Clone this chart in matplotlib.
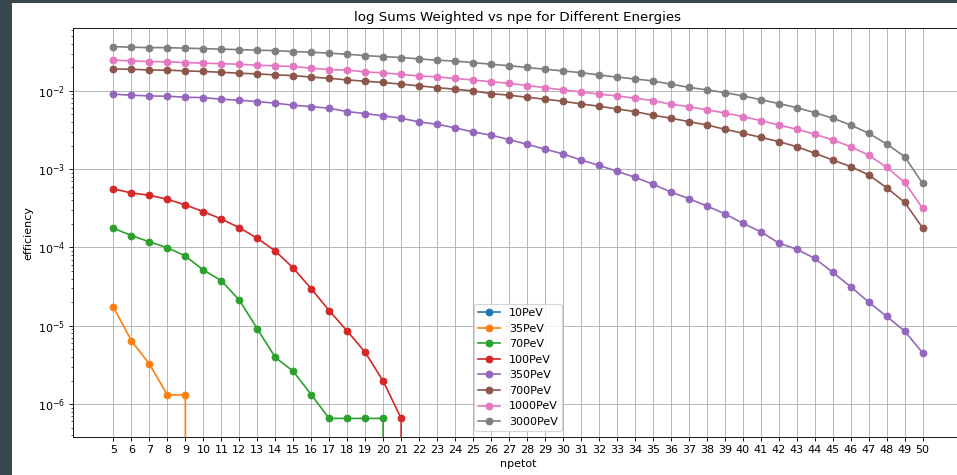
import matplotlib
matplotlib.use("Agg")
import matplotlib.pyplot as plt
from matplotlib.patches import Rectangle

npetot = list(range(5, 51))

labels = ["10PeV", "35PeV", "70PeV", "100PeV", "350PeV", "700PeV", "1000PeV", "3000PeV"]

eff_10 = [0.0] * 46

eff_35 = [1.72e-5, 6.44e-6, 3.24e-6, 1.31e-6, 1.31e-6] + [0.0] * 41

eff_70 = [1.76e-4, 1.42e-4, 1.18e-4, 9.94e-5, 7.78e-5, 5.15e-5, 3.77e-5, 2.13e-5,
          9.16e-6, 3.95e-6, 2.62e-6, 1.32e-6, 6.56e-7, 6.56e-7, 6.56e-7, 6.56e-7] + [0.0] * 30

eff_100 = [5.60e-4, 4.97e-4, 4.65e-4, 4.13e-4, 3.49e-4, 2.87e-4, 2.31e-4, 1.79e-4,
           1.31e-4, 9.02e-5, 5.47e-5, 2.97e-5, 1.56e-5, 8.57e-6, 4.58e-6, 1.97e-6,
           6.56e-7] + [0.0] * 29

eff_350 = [9.08e-3, 8.81e-3, 8.63e-3, 8.55e-3, 8.30e-3, 8.21e-3, 7.83e-3, 7.60e-3,
           7.30e-3, 6.97e-3, 6.56e-3, 6.30e-3, 6.01e-3, 5.44e-3, 5.13e-3, 4.80e-3,
           4.48e-3, 4.02e-3, 3.75e-3, 3.37e-3, 2.99e-3, 2.72e-3, 2.39e-3, 2.08e-3,
           1.80e-3, 1.57e-3, 1.31e-3, 1.12e-3, 9.42e-4, 7.89e-4, 6.43e-4, 5.12e-4,
           4.21e-4, 3.39e-4, 2.70e-4, 2.04e-4, 1.59e-4, 1.14e-4, 9.49e-5, 7.28e-5,
           4.82e-5, 3.16e-5, 2.01e-5, 1.32e-5, 8.57e-6, 4.53e-6]

eff_700 = [1.91e-2, 1.89e-2, 1.85e-2, 1.84e-2, 1.80e-2, 1.77e-2, 1.73e-2, 1.68e-2,
           1.65e-2, 1.60e-2, 1.57e-2, 1.50e-2, 1.45e-2, 1.38e-2, 1.33e-2, 1.28e-2,
           1.22e-2, 1.16e-2, 1.10e-2, 1.05e-2, 1.00e-2, 9.23e-3, 8.81e-3, 8.30e-3,
           7.83e-3, 7.38e-3, 6.82e-3, 6.37e-3, 5.89e-3, 5.44e-3, 4.89e-3, 4.48e-3,
           4.05e-3, 3.67e-3, 3.24e-3, 2.88e-3, 2.56e-3, 2.25e-3, 1.94e-3, 1.60e-3,
           1.31e-3, 1.08e-3, 8.45e-4, 5.81e-4, 3.78e-4, 1.79e-4]

eff_1000 = [2.47e-2, 2.42e-2, 2.37e-2, 2.35e-2, 2.30e-2, 2.26e-2, 2.23e-2, 2.19e-2,
            2.13e-2, 2.09e-2, 2.05e-2, 1.95e-2, 1.87e-2, 1.84e-2, 1.75e-2, 1.70e-2,
            1.63e-2, 1.55e-2, 1.51e-2, 1.44e-2, 1.38e-2, 1.31e-2, 1.25e-2, 1.17e-2,
            1.10e-2, 1.03e-2, 9.71e-3, 9.08e-3, 8.63e-3, 8.07e-3, 7.52e-3, 6.76e-3,
            6.30e-3, 5.72e-3, 5.23e-3, 4.70e-3, 4.17e-3, 3.67e-3, 3.24e-3, 2.80e-3,
            2.37e-3, 1.94e-3, 1.51e-3, 1.06e-3, 6.80e-4, 3.17e-4]

eff_3000 = [3.68e-2, 3.61e-2, 3.57e-2, 3.57e-2, 3.51e-2, 3.47e-2, 3.41e-2, 3.37e-2,
            3.31e-2, 3.27e-2, 3.18e-2, 3.12e-2, 3.03e-2, 2.94e-2, 2.82e-2, 2.74e-2,
            2.67e-2, 2.56e-2, 2.47e-2, 2.40e-2, 2.30e-2, 2.19e-2, 2.10e-2, 1.99e-2,
            1.89e-2, 1.80e-2, 1.71e-2, 1.60e-2, 1.50e-2, 1.42e-2, 1.34e-2, 1.22e-2,
            1.11e-2, 1.03e-2, 9.52e-3, 8.63e-3, 7.74e-3, 6.89e-3, 6.12e-3, 5.28e-3,
            4.48e-3, 3.67e-3, 2.88e-3, 2.10e-3, 1.45e-3, 6.60e-4]

series = [eff_10, eff_35, eff_70, eff_100, eff_350, eff_700, eff_1000, eff_3000]

dpi = 80
fig = plt.figure(figsize=(957 / dpi, 475 / dpi), dpi=dpi)
fig.patch.set_facecolor("white")

# dark frame along the left and top edges
frame = "#37474f"
fig.patches.append(Rectangle((0, 0), 12 / 957, 1, transform=fig.transFigure,
                             facecolor=frame, edgecolor="none", zorder=-10))
fig.patches.append(Rectangle((0, 1 - 3 / 475), 1, 3 / 475, transform=fig.transFigure,
                             facecolor=frame, edgecolor="none", zorder=-10))

ax = fig.add_axes([73 / 957, 38 / 475, 890 / 957, 409 / 475])

for lab, vals in zip(labels, series):
    ax.plot(npetot, vals, marker="o", label=lab)

ax.set_yscale("log")
ax.set_xticks(npetot)
ax.grid(True)
ax.set_xlabel("npetot")
ax.set_ylabel("efficiency")
ax.set_title("log Sums Weighted vs npe for Different Energies")
ax.legend(loc="lower center")

fig.savefig("out.png", dpi=dpi)
